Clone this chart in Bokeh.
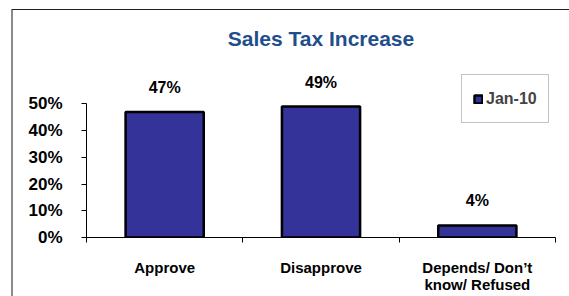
from bokeh.plotting import figure
from bokeh.models import (FactorRange, Range1d, LinearAxis, CategoricalAxis, FixedTicker,
                          SingleIntervalTicker, NumeralTickFormatter, Legend, LegendItem,
                          ColumnDataSource)
from bokeh.core.properties import value
from bokeh.embed import file_html
from bokeh.resources import INLINE

# ---- data ----
categories = ["Approve", "Disapprove", "Depends/ Don\u2019t\nknow/ Refused"]
values = [0.47, 0.49, 0.045]
value_labels = ["47%", "49%", "4%"]
series_name = "Jan-10"
title_text = "Sales Tax Increase"

FONT = "Liberation Sans"

p = figure(x_range=FactorRange(*categories), y_range=Range1d(0, 0.685),
           width=569, height=296, output_backend="svg", toolbar_location=None,
           x_axis_location=None, y_axis_location=None,
           min_border_left=86, min_border_right=14, min_border_top=54, min_border_bottom=59)
p.xgrid.visible = False
p.ygrid.visible = False
p.outline_line_color = None
p.background_fill_color = None
p.border_fill_color = None
# outer chart frame: dark top edge, gray left edge
p.styles = {
    "background": "linear-gradient(#222222,#222222) 12px 9px / 100% 1px no-repeat, "
                  "linear-gradient(#8a8a8a,#8a8a8a) 11px 9px / 2px 100% no-repeat, white"
}

p.title.text = title_text
p.title.align = "center"
p.title.text_font = FONT
p.title.text_font_style = "bold"
p.title.text_font_size = "21px"
p.title.text_color = "#1F4E8C"

# y axis
yax = LinearAxis(ticker=SingleIntervalTicker(interval=0.1, num_minor_ticks=0),
                 formatter=NumeralTickFormatter(format="0%"), bounds=(0, 0.5))
yax.axis_line_color = "black"
yax.major_tick_in = 0
yax.major_tick_out = 5
yax.minor_tick_line_color = None
yax.major_label_standoff = 19
yax.major_label_text_font = FONT
yax.major_label_text_font_style = "bold"
yax.major_label_text_font_size = "17px"
yax.major_label_text_color = "black"
p.add_layout(yax, "left")

# x axis: boundary ticks
tick_axis = LinearAxis(ticker=FixedTicker(ticks=list(range(len(categories) + 1))))
tick_axis.major_label_overrides = {i: "" for i in range(len(categories) + 1)}
tick_axis.major_label_text_font_size = "0px"
tick_axis.major_label_standoff = 0
tick_axis.major_tick_in = 0
tick_axis.major_tick_out = 5
tick_axis.minor_tick_line_color = None
tick_axis.axis_line_color = "black"
p.add_layout(tick_axis, "below")

cat_axis = CategoricalAxis()
cat_axis.axis_line_color = None
cat_axis.major_tick_line_color = None
cat_axis.minor_tick_line_color = None
cat_axis.major_label_standoff = 10
cat_axis.major_label_text_font = FONT
cat_axis.major_label_text_font_style = "bold"
cat_axis.major_label_text_font_size = "15px"
cat_axis.major_label_text_color = "black"
cat_axis.major_label_text_line_height = 1.05
p.add_layout(cat_axis, "below")

src = ColumnDataSource(dict(cat=categories, val=values, lab=value_labels))
bars = p.vbar(x="cat", top="val", width=0.5, source=src, fill_color="#333399",
              line_color="black", line_width=2.5)
p.text(x="cat", y="val", text="lab", source=src, y_offset=-16,
       text_align="center", text_baseline="bottom", text_font=value(FONT),
       text_font_style="bold", text_font_size="16px", text_color="black")

legend = Legend(items=[LegendItem(label=series_name, renderers=[bars])],
                location=(375, 114), margin=0, padding=11, glyph_width=10, glyph_height=10,
                label_standoff=3, border_line_color="#888888", border_line_width=1,
                background_fill_color="white", background_fill_alpha=1,
                label_text_font=FONT, label_text_font_style="bold", label_text_font_size="16px",
                label_height=25)
p.add_layout(legend)

open("out.html", "w").write(file_html(p, INLINE))
